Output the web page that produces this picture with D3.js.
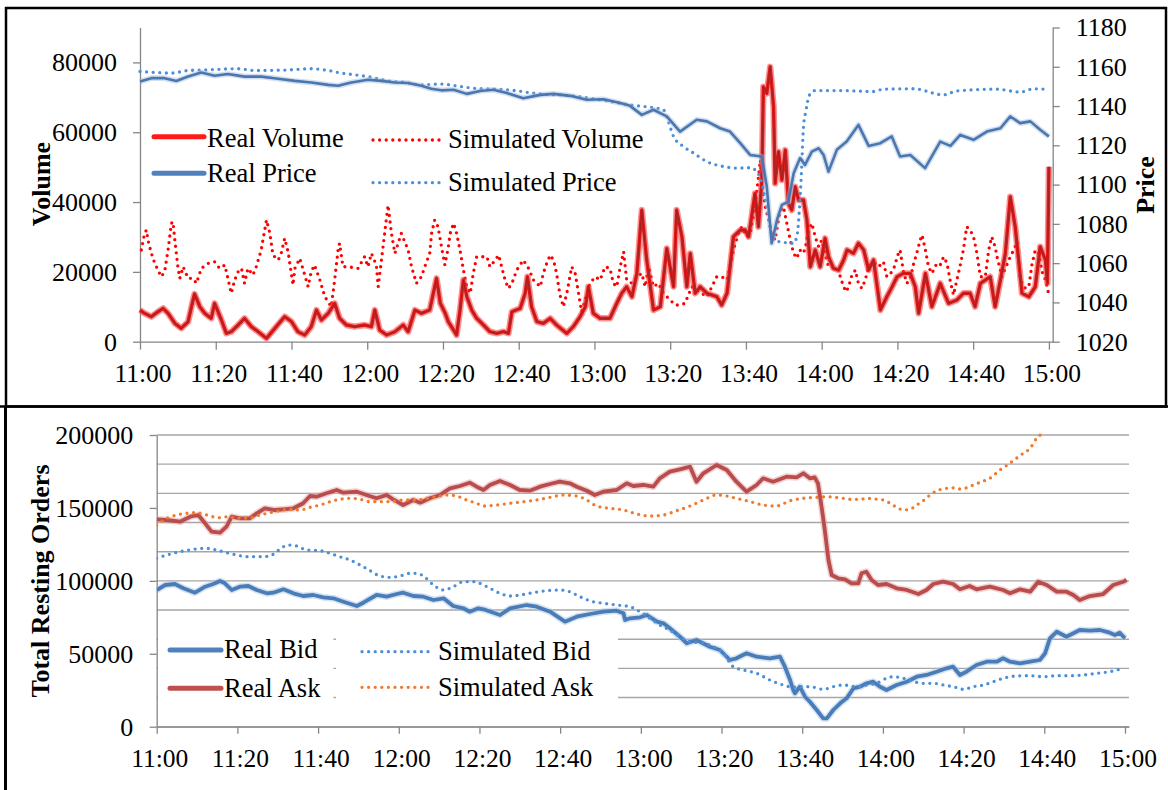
<!DOCTYPE html>
<html>
<head>
<meta charset="utf-8">
<script src="https://cdn.jsdelivr.net/npm/d3@7"></script>
<style>
  body { margin: 0; background: #fff; }
  svg { display: block; }
  text { font-family: "Liberation Serif", "Times New Roman", serif; fill: #000; }
</style>
</head>
<body>
<svg id="chart" width="1168" height="790"></svg>
<script>
// ---------- tick labels ----------
const timeLabels = ["11:00","11:20","11:40","12:00","12:20","12:40","13:00","13:20","13:40","14:00","14:20","14:40","15:00"];
const volumeTicks = [0, 20000, 40000, 60000, 80000];
const priceTicks = [1020, 1040, 1060, 1080, 1100, 1120, 1140, 1160, 1180];
const ordersTicks = [0, 50000, 100000, 150000, 200000];
const ordersGrid = [0, 20000, 40000, 60000, 80000, 100000, 120000, 140000, 160000, 180000, 200000];

// ---------- series: [minutes after 11:00, value] ----------
const realVolume = [[0,9077],[1.2,8130],[3,7160],[4.75,8590],[6.1,9560],[7.4,8130],[9.2,5270],[10.9,3840],[12.7,5730],[13.6,10020],[14.4,13660],[15.8,10020],[17.1,8130],[18.8,6700],[19.7,11000],[20.6,8590],[21.5,6210],[22.8,2400],[24.1,2860],[25.9,4780],[27.6,6700],[29.4,4300],[31.2,2860],[33.4,970],[35.6,3840],[38.2,7160],[40,5730],[41.7,2860],[43.5,1920],[45.2,4300],[46.6,9077],[47.9,6210],[49.7,8130],[51.4,11000],[52.7,6700],[54.5,4780],[56.7,4300],[59.3,4780],[61.1,4300],[62,9077],[63.3,3340],[65.1,1920],[67.3,2860],[69.5,4780],[70.8,2860],[72.6,9077],[74.3,8130],[76.5,9077],[78.3,18150],[79.3,11000],[80.6,8130],[81.4,5730],[82.8,3340],[83.6,1920],[84.5,9077],[85.4,17670],[86.3,12885],[87.6,9077],[88.9,6700],[90.7,4780],[92.4,2860],[94.2,2400],[96,2860],[97.3,2400],[98.2,8590],[100.4,9560],[101.7,13860],[102.3,18610],[103.4,10020],[104.8,5730],[106.5,5270],[108.3,6700],[110,4780],[112.7,2400],[114.4,4300],[116.2,7160],[117.6,10020],[118.4,15750],[119.7,8130],[121.5,6700],[124.1,6700],[125.9,11000],[127.2,13860],[128.5,15750],[129.9,12885],[131.2,19580],[132.5,37710],[133.8,23390],[135.6,9077],[137.4,10020],[139.1,26740],[140.9,15750],[141.7,37710],[143.1,30060],[144.4,15750],[145.3,25310],[146.6,13860],[147.9,15750],[149.7,13860],[152.3,12885],[153.6,10510],[155,13860],[156.7,30060],[158.5,32000],[159.8,31980],[160.7,30060],[161.5,35790],[162.4,42490],[163.3,32930],[164.2,46300],[164.6,73010],[165.5,71120],[166.4,78740],[167.3,67290],[167.7,45350],[168.6,54400],[169.5,46300],[170.4,54890],[171.2,39630],[172.1,37710],[173,44380],[173.9,40570],[175.2,40570],[176.1,34850],[177,21470],[178.3,26260],[179.6,21470],[180.9,29610],[181.8,24340],[183.1,21020],[184.5,20530],[185.8,23390],[186.7,26260],[188.4,25310],[189.7,28180],[191.1,26260],[192.4,20530],[193.7,23390],[195.5,9077],[197.2,12885],[198.6,15750],[199.9,18610],[201.6,19580],[203.4,19580],[204.7,15750],[205.6,8130],[207.4,19580],[209.1,10020],[211.3,16720],[213.5,11000],[215.7,11940],[217.4,13860],[219.2,13860],[220.5,10020],[221.9,16720],[224.5,18610],[225.8,10020],[227.2,17670],[228.5,25310],[229.8,41520],[231.1,32930],[232.9,13860],[234.7,12885],[236.4,15750],[237.7,27200],[239.1,23390],[239.6,16720],[240,50100]];

const simVolume = [[0.35,26260],[1.2,31030],[1.7,31980],[2.1,29120],[3,25310],[3.9,22450],[5.6,18610],[6.5,20040],[7.4,26260],[8.3,33900],[8.7,34360],[9.2,29120],[10,21470],[10.5,18150],[11.4,21470],[12.7,18150],[14,18150],[14.9,16720],[16.2,21020],[18,22450],[19.7,22910],[21,21020],[22.4,21960],[23.2,18150],[24.1,13860],[25,17670],[25.9,20040],[26.8,21020],[27.6,16720],[28.5,21020],[29.8,19100],[30.7,21470],[32,26260],[33.4,34850],[34.3,31030],[35.1,24820],[36.5,23390],[37.3,25310],[38.2,29610],[39.1,25770],[40.4,16230],[40.9,21020],[42.2,23880],[43.5,19100],[44.4,15750],[45.2,20040],[46.1,21960],[47.5,17670],[48.8,12885],[50.5,10020],[51.4,17670],[52.3,26260],[52.7,28180],[53.6,21470],[55,21470],[57.6,21020],[59.3,24340],[60.2,21470],[61.1,25310],[62.4,21960],[62.9,15750],[63.7,22910],[64.6,31030],[65.5,39140],[66.4,31030],[67.3,25310],[69,31030],[70.8,26260],[71.7,21470],[73,16720],[74.3,18610],[75.2,21470],[76.5,25310],[77,31030],[77.8,34850],[78.7,32930],[79.6,27200],[80.5,22000],[81.4,27000],[81.9,31030],[82.8,33900],[83.6,31030],[84.5,26260],[85.4,20530],[86.3,15750],[87.2,13860],[88,19580],[88.9,24340],[89.8,24340],[91.6,24340],[92.4,21470],[93.8,23390],[94.7,24820],[95.5,21470],[96.4,17670],[97.3,15270],[98.2,16720],[99.5,20530],[101.2,23390],[102.6,21020],[103.9,17670],[105.7,15750],[106.5,19580],[107.4,22450],[108.3,24820],[109.2,23390],[110,19580],[110.9,13370],[111.8,10020],[112.7,13860],[114,21470],[114.9,19580],[115.8,13860],[116.6,8590],[117.5,11940],[118.8,16720],[120.2,18610],[121.5,17670],[122.8,21470],[124.1,21020],[125,16720],[125.9,15750],[126.8,21470],[127.7,25770],[128.5,17670],[129.9,16720],[131.2,18610],[132.5,19580],[133.4,15750],[134.3,21470],[135.6,15750],[136.9,16720],[138.2,13860],[140,11940],[141.3,10510],[142.6,10510],[143.9,11000],[145.7,15750],[149.7,12885],[152.3,18610],[153.6,18610],[155,17670],[155.8,21470],[156.7,26260],[158,31030],[158.9,32930],[160.2,30060],[161.1,31030],[162.4,38650],[163.3,47240],[163.8,52030],[164.2,45350],[165.1,38650],[166,34850],[166.8,31030],[167.7,29120],[168.6,34850],[169,37220],[169.9,38650],[170.8,33900],[171.7,29120],[172.6,25310],[173.4,23880],[174.3,26260],[174.8,25310],[175.6,26260],[176.5,31980],[177.4,33900],[178.3,30060],[179.2,27200],[180,29120],[180.9,25310],[181.8,21470],[183.1,21470],[184.5,20530],[184.9,18610],[185.8,15750],[186.5,14320],[187.1,15750],[188,19100],[188.9,20530],[189.7,16720],[190.6,15290],[191.5,17670],[192.4,21470],[193.7,22910],[195,21470],[196.3,22910],[197.2,18610],[198.6,20040],[199.4,21960],[199.9,24340],[200.7,26260],[201.6,20040],[202.5,16720],[203.4,18150],[204.3,22450],[205.1,25310],[206,29120],[206.5,30550],[207.4,26260],[208.2,21470],[209.1,19580],[210.4,22450],[211.3,21960],[212.2,24340],[213.1,22450],[213.9,17670],[214.8,13370],[215.7,17670],[216.6,21960],[217.4,26260],[218.3,32930],[219.2,31980],[220.1,30060],[221,25310],[221.9,18610],[223.2,18610],[224.1,26260],[224.9,30060],[225.8,27200],[226.3,24340],[227.6,18610],[228.5,21020],[229.8,24340],[230.7,26260],[231.6,28630],[232.4,17670],[233.8,15290],[234.7,15750],[235.5,21960],[236.4,26260],[237.3,25310],[238.2,20040],[239.1,17670],[239.9,13860],[240.4,12885]];

const realPrice = [[0,1152.5],[3,1154.2],[6.5,1154.2],[9.6,1152.8],[12.7,1155],[16.2,1157.1],[19.7,1155.4],[23.2,1156.3],[27.6,1155],[32,1155],[36.5,1153.9],[40.9,1152.8],[45.2,1152],[49.7,1150.8],[52.3,1150.3],[55.8,1152],[60.2,1153.4],[63.7,1152.8],[67.3,1152],[70.8,1151.7],[74.3,1150.3],[76.9,1148.8],[79.6,1148],[82.8,1148.3],[86.3,1146.2],[89.8,1147.7],[93.3,1148.3],[96.9,1146.6],[101.2,1144],[105.7,1145.7],[109.2,1146.2],[113.6,1145.2],[118,1143.2],[122.4,1143.5],[126.8,1141.5],[129.4,1140.1],[132.5,1135.5],[135.6,1138.1],[139.1,1134.7],[142.6,1127],[147,1133],[149.7,1132.2],[153.2,1128.7],[155.8,1127],[158.5,1121.1],[161.1,1115.1],[164.2,1114.3],[165.5,1099],[166.8,1070.1],[168.2,1082],[169.5,1089.7],[171.2,1091.3],[172.6,1105.8],[174.3,1113.5],[175.6,1110],[177.4,1116.8],[179.2,1118.5],[180.5,1115.1],[181.8,1106.6],[184,1117.7],[186.6,1121.9],[189.7,1130.4],[192.4,1119.7],[195.5,1121.1],[198.5,1124.5],[200.7,1114.3],[203.4,1115.1],[207.3,1108.4],[211.3,1121.9],[214,1119.7],[216.6,1125.3],[220.1,1122.8],[223.6,1127],[227.2,1128.7],[229.8,1134.7],[232.4,1131.3],[235.1,1132.2],[237.7,1127.9],[240,1124.5]];

const simPrice = [[0,1157.6],[3.9,1157.1],[8.3,1156.8],[12.7,1158.1],[17.1,1158.4],[25.9,1159],[30.3,1158.1],[39.1,1158.4],[45.2,1159],[49.7,1158.1],[53.2,1156.8],[56.7,1155.9],[61.1,1154.7],[65.5,1152.8],[69.9,1152],[74.3,1150.8],[79,1151.2],[88,1149.1],[96.9,1148.3],[105.7,1146.2],[114.4,1145.2],[121.5,1143.2],[129.4,1140.6],[138.2,1138.1],[139.5,1132.1],[140.9,1124.5],[143.5,1119.4],[146.2,1116],[149.7,1111.7],[154.1,1109.2],[157.7,1108.4],[161.1,1108.6],[162.9,1106.6],[164.2,1100.7],[165.5,1088.8],[167.3,1071.8],[170.8,1070.4],[172.6,1070.1],[173.6,1075.4],[174.1,1087.1],[174.6,1104.1],[175.2,1129.6],[175.8,1137.2],[176.8,1145.7],[178.3,1147.9],[184.9,1147.9],[193.7,1147.4],[196.3,1148.6],[204.3,1148.8],[212.2,1145.7],[215.7,1147.7],[226.3,1148.6],[232.4,1147.1],[236,1148.8],[238.6,1148.6]];

const realBid = [[0,93730],[2.1,97150],[4.5,97840],[6.6,94890],[9.5,91880],[12,95990],[14,97840],[15.7,99900],[16.9,98320],[18.6,93730],[20.6,95990],[22.7,96470],[24.8,93730],[27.3,91460],[28.9,91880],[31.4,94210],[33.9,91460],[36.3,89610],[38.8,90300],[41.3,88720],[43.8,88040],[46.3,85700],[49.6,82760],[51.2,85020],[54.5,90300],[57,89130],[59.5,90980],[61.1,91880],[63.6,89610],[66.1,89130],[68.6,86870],[71.1,88040],[73.5,82760],[76,81180],[77.6,78850],[79.7,81180],[81,80490],[85.1,76590],[87.6,81180],[91.7,83440],[94.2,82280],[97.5,78850],[101.2,71990],[104.1,75420],[107.4,77270],[110.7,78850],[114,79530],[115.7,77750],[116.1,73160],[117.3,74320],[119.8,75010],[121.5,76590],[124,71990],[125.6,70900],[127.2,67470],[129.7,61710],[131.4,57180],[133.8,59440],[137.1,54850],[139.6,52590],[142.1,45730],[143.7,46900],[146.2,50330],[148.7,47990],[152,46900],[154.5,47990],[155.7,41140],[157,32000],[157.8,25000],[158.2,22900],[159.4,27430],[160.7,20570],[161.9,17140],[163.6,11450],[165.2,5760],[166.1,5760],[167.7,11450],[169.4,16040],[171,19470],[172.7,26330],[174.3,27430],[176,29760],[177.6,30850],[179.3,27430],[180.9,25160],[183.4,28590],[185.9,30850],[188.4,34280],[190.8,35450],[193.3,37710],[195.8,40040],[197.4,41140],[199.1,35450],[200.7,37710],[203.2,42300],[205.7,44570],[208.2,44570],[209.8,46900],[211.5,44570],[214,43470],[216.5,44570],[218.9,45730],[220.2,50330],[221.4,60610],[223.1,65130],[225.5,61710],[228.8,66300],[231.3,65820],[233.8,66300],[236.2,64450],[237.5,62870],[238.7,64450],[240,60610]];

const realAsk = [[0,142190],[2.5,141720],[5.8,140550],[8.3,143980],[10.3,145150],[12,139460],[13.6,133700],[15.7,133020],[17.3,137130],[18.6,143980],[20.6,142880],[23.1,142880],[24.8,146310],[26.8,149740],[29.3,148570],[31.4,149040],[33.9,149740],[36.3,153170],[38,158170],[39.6,157700],[42.1,160030],[44.6,162290],[46.3,160440],[49.6,161120],[52,158860],[54.5,156600],[57,158860],[58.6,155910],[61.1,152000],[63.6,155430],[65.3,153580],[67.7,156600],[70.2,158860],[72.7,163460],[75.2,165030],[77.6,167290],[79.3,164550],[81,162290],[82.6,165720],[85.1,168460],[87.6,165720],[90,162290],[92.5,161810],[95,164550],[97.5,166400],[99.9,167980],[102.4,166880],[104.1,164550],[106.6,161810],[108.6,158860],[110.7,161120],[114,162290],[116.5,166880],[118.1,165030],[120.6,165720],[123.1,164550],[124.7,170310],[127.2,174840],[129.7,176480],[132.2,178270],[133.8,167980],[135.5,173740],[138.8,179430],[141.3,176000],[143.7,167980],[146.2,161120],[148.7,165720],[150.3,170310],[152.8,167980],[156.1,171410],[158.6,171000],[160.3,173740],[161.9,170310],[163.1,171000],[163.9,166880],[164.8,150840],[165.6,134860],[166.5,114300],[167.3,104010],[168.9,101750],[170.6,101060],[172.2,98320],[173.9,98320],[174.7,105180],[175.9,106270],[177.2,100580],[178.8,97150],[180.9,97840],[183.4,94890],[185.9,93730],[188.8,90980],[190.8,93730],[192.5,97840],[194.9,99420],[197.4,97840],[199.1,94210],[201.5,96470],[203.2,94210],[206.5,95990],[209.8,93730],[211.5,91460],[214,94210],[216.5,92560],[218.5,99420],[220.6,97150],[223.1,92560],[225.5,92560],[227.2,90300],[228.8,86870],[231.3,89610],[234.6,90980],[237.1,97150],[239.6,99420],[240.4,100580]];

const simBid = [[0,115460],[2.5,117720],[5.8,119990],[9.1,121630],[12,122320],[14.9,121150],[17.3,119300],[19.8,117720],[22.3,116560],[25.6,116560],[28.1,117040],[29.7,119990],[32.6,124580],[34.7,123890],[37.2,121150],[40.5,120670],[42.9,118890],[45.4,116560],[47.9,114300],[50.4,110870],[52.9,106960],[55.3,103330],[57.8,102430],[60.3,103330],[62.8,105180],[64.4,105180],[66.1,103330],[68.6,97150],[71.1,93730],[73.5,95990],[76,99420],[78.5,99420],[80.1,98320],[82.6,94890],[85.1,91460],[87.6,89610],[90,90300],[93.3,91880],[96.6,93250],[99.9,93730],[102.4,92560],[104.9,89130],[108.2,85700],[110.7,84610],[114,83440],[117.3,82280],[119.8,78850],[122.3,74320],[124.7,69730],[127.2,66300],[129.7,61710],[132.2,58280],[135.5,57180],[138,54850],[140.5,50330],[142.9,41140],[145.4,38880],[148.7,36610],[152,32020],[155.3,28590],[157.8,27000],[159.4,27430],[161.9,27430],[165.2,25640],[167.7,27430],[170.2,28590],[173.5,27430],[176,28590],[178.4,29760],[180.9,33190],[182.6,34280],[185.1,33190],[187.6,30850],[190,29760],[192.5,29760],[195,28590],[197.4,27430],[199.9,25640],[202.4,27430],[204.9,28590],[207.4,30850],[209.8,33190],[213.1,34760],[216.5,34970],[219.8,34280],[223.1,34970],[226.4,34970],[229.7,35450],[233,36610],[236.2,37710],[239.6,40040]];

const simAsk = [[0,138290],[2.5,142880],[4.95,145150],[7.4,146310],[9.9,146730],[12.4,145150],[15.3,143300],[17.8,143980],[20.2,142880],[23.1,143300],[25.6,145150],[28.1,146730],[30.6,148100],[33.1,149040],[35.5,148570],[38,150430],[40.5,152000],[43,154270],[45.4,155910],[47.9,156600],[50.4,155910],[52.9,154270],[55.3,154270],[57.8,154270],[61.1,155430],[64.4,155430],[66.9,156600],[69.4,157700],[71.9,158860],[74.3,158170],[76.8,155430],[79.3,153170],[81,151320],[84.3,152000],[87.6,153170],[90.9,154270],[94.2,155430],[97.5,157280],[100.7,158860],[104.1,158170],[106.6,155430],[109,151320],[112.3,149740],[115.7,148570],[119,145830],[122.3,144460],[125.6,145150],[128.9,148100],[132.2,151320],[135.5,155430],[138.8,158860],[141.3,158170],[143.7,156600],[147.1,154270],[150.3,152000],[153.6,151320],[157,154950],[160.3,156600],[163.6,157280],[166.1,157700],[168.1,157280],[170.2,156600],[172.2,155910],[174.3,155910],[176,156600],[178,156120],[180.1,155430],[181.8,153170],[183.4,150430],[185.1,148570],[186.7,149040],[188.4,152000],[190,154950],[191.7,158860],[193.3,161810],[195,162970],[197.1,163870],[198.7,162970],[200.8,163870],[202.4,165720],[204.5,167980],[206.5,170310],[209,176000],[211.1,179910],[213.1,184030],[214.8,187460],[216.5,190880],[218.1,197740],[219,200000]];

// ---------- helpers ----------
const parseClock = d3.timeParse("%H:%M");
const start = parseClock("11:00");
const T = m => new Date(+start + m * 60000);
const fmtClock = d3.timeFormat("%H:%M");

const svg = d3.select("#chart");
const AXIS = "#868686";
const FONT = "Liberation Serif, Times New Roman, serif";

function styleAxis(g, size) {
  g.attr("font-family", FONT).attr("font-size", size);
  g.selectAll(".domain").attr("stroke", AXIS).attr("stroke-width", 1.3);
  g.selectAll(".tick line").attr("stroke", AXIS).attr("stroke-width", 1.3);
  g.selectAll(".tick text").attr("fill", "#000");
}

// a solid series: soft halo underneath, coloured stroke on top
function drawSolid(g, data, x, y, core, halo, w, haloOpacity) {
  const line = d3.line().x(d => x(T(d[0]))).y(d => y(d[1])).curve(d3.curveLinear);
  g.append("path").attr("d", line(data)).attr("fill", "none")
    .attr("stroke", halo).attr("stroke-width", w + 3).attr("stroke-opacity", haloOpacity)
    .attr("stroke-linejoin", "round");
  g.append("path").attr("d", line(data)).attr("fill", "none")
    .attr("stroke", core).attr("stroke-width", w).attr("stroke-linejoin", "round");
}

function drawDotted(g, data, x, y, color, curve) {
  const line = d3.line().x(d => x(T(d[0]))).y(d => y(d[1])).curve(curve);
  g.append("path").attr("d", line(data)).attr("fill", "none")
    .attr("stroke", color).attr("stroke-width", 3.3)
    .attr("stroke-linecap", "round").attr("stroke-dasharray", "0 6.6");
}

function legendSolid(g, x1, x2, y, color) {
  g.append("line").attr("x1", x1).attr("x2", x2).attr("y1", y).attr("y2", y)
    .attr("stroke", color).attr("stroke-width", 5).attr("stroke-linecap", "round");
}
function legendDotted(g, x1, x2, y, color) {
  g.append("line").attr("x1", x1).attr("x2", x2).attr("y1", y).attr("y2", y)
    .attr("stroke", color).attr("stroke-width", 3.3)
    .attr("stroke-linecap", "round").attr("stroke-dasharray", "0 6.6");
}
function legendText(g, x, y, str) {
  g.append("text").attr("x", x).attr("y", y).attr("font-size", 26.5).text(str);
}

// ---------- panel frames ----------
svg.append("rect").attr("x", 6).attr("y", 8).attr("width", 1160).attr("height", 398.5)
  .attr("fill", "none").attr("stroke", "#000").attr("stroke-width", 2.5);
svg.append("line").attr("x1", 0).attr("x2", 1168).attr("y1", 406.5).attr("y2", 406.5)
  .attr("stroke", "#000").attr("stroke-width", 2.5);
svg.append("line").attr("x1", 5.5).attr("x2", 5.5).attr("y1", 406).attr("y2", 790)
  .attr("stroke", "#000").attr("stroke-width", 3);

// =========== upper chart: volume & price ===========
const upper = svg.append("g");
const xTop = d3.scaleTime().domain([T(0), T(241)]).range([140, 1052.7]);
const yVol = d3.scaleLinear().domain([0, 90000]).range([341.7, 27.5]);
const yPrice = d3.scaleLinear().domain([1020, 1180]).range([341.7, 27.5]);
const timeTicks = timeLabels.map(parseClock);

const axVol = upper.append("g").attr("transform", "translate(140,0)")
  .call(d3.axisLeft(yVol).tickValues(volumeTicks).tickSize(7).tickPadding(16).tickSizeOuter(0).tickFormat(d3.format("d")));
styleAxis(axVol, 26);
const axPrice = upper.append("g").attr("transform", "translate(1052.7,0)")
  .call(d3.axisRight(yPrice).tickValues(priceTicks).tickSize(7).tickPadding(16).tickSizeOuter(0).tickFormat(d3.format("d")));
styleAxis(axPrice, 26);
const axTimeTop = upper.append("g").attr("transform", "translate(0,341.7)")
  .call(d3.axisBottom(xTop).tickValues(timeTicks)
    .tickSize(8).tickPadding(14).tickSizeOuter(0).tickFormat(fmtClock));
styleAxis(axTimeTop, 25.5);
axTimeTop.selectAll(".tick text").attr("dx", 2.5);

upper.append("text").attr("transform", "translate(50,184) rotate(-90)")
  .attr("text-anchor", "middle").attr("font-size", 26).attr("font-weight", "bold").text("Volume");
upper.append("text").attr("transform", "translate(1154,185) rotate(-90)")
  .attr("text-anchor", "middle").attr("font-size", 26).attr("font-weight", "bold").text("Price");

const upperSeries = upper.append("g");
drawDotted(upperSeries, simVolume, xTop, yVol, "#ff0000", d3.curveLinear);
drawSolid(upperSeries, realVolume, xTop, yVol, "#dc1a1a", "#ff3a3a", 3.4, 0.55);
upperSeries.append("path")
  .attr("d", d3.line().x(d => xTop(T(d[0]))).y(d => yVol(d[1]))(realVolume))
  .attr("fill", "none").attr("stroke", "#8a2626").attr("stroke-width", 1).attr("stroke-opacity", 0.75);
drawDotted(upperSeries, simPrice, xTop, yPrice, "#4a90d9", d3.curveMonotoneX);
drawSolid(upperSeries, realPrice, xTop, yPrice, "#4b76ae", "#9bb8de", 2.6, 0.45);

const upperLegend = upper.append("g");
legendSolid(upperLegend, 154, 204, 136.7, "#ff1a1a");
legendText(upperLegend, 207, 146.5, "Real Volume");
legendSolid(upperLegend, 154, 204, 173.3, "#4f81bd");
legendText(upperLegend, 207, 181.7, "Real Price");
legendDotted(upperLegend, 373, 440, 140, "#ff0000");
legendText(upperLegend, 448, 148.3, "Simulated Volume");
legendDotted(upperLegend, 373, 440, 182.7, "#4a90d9");
legendText(upperLegend, 448, 190.7, "Simulated Price");

// =========== lower chart: resting orders ===========
const lower = svg.append("g");
const xBot = d3.scaleTime().domain([T(0), T(241)]).range([156.7, 1129]);
const yOrd = d3.scaleLinear().domain([0, 200000]).range([726.7, 435]);

lower.append("g").selectAll("line").data(ordersGrid).join("line")
  .attr("x1", xBot.range()[0]).attr("x2", xBot.range()[1])
  .attr("y1", d => yOrd(d)).attr("y2", d => yOrd(d))
  .attr("stroke", "#a6a6a6").attr("stroke-width", 1.4);

// legend backgrounds sit over the gridlines
lower.append("rect").attr("x", 158).attr("y", 633).attr("width", 175.5).attr("height", 72).attr("fill", "#fff");
lower.append("rect").attr("x", 336).attr("y", 633).attr("width", 282).attr("height", 72).attr("fill", "#fff");

const axOrd = lower.append("g").attr("transform", "translate(156.7,0)")
  .call(d3.axisLeft(yOrd).tickValues(ordersTicks).tickSize(7).tickPadding(16.4).tickSizeOuter(0).tickFormat(d3.format("d")));
styleAxis(axOrd, 26);
const axTimeBot = lower.append("g").attr("transform", "translate(0,726.7)")
  .call(d3.axisBottom(xBot).tickValues(timeTicks)
    .tickSize(7).tickPadding(15).tickSizeOuter(0).tickFormat(fmtClock));
styleAxis(axTimeBot, 25.5);
axTimeBot.selectAll(".tick text").attr("dx", 2.5);

lower.append("text").attr("transform", "translate(49,581) rotate(-90)")
  .attr("text-anchor", "middle").attr("font-size", 26).attr("font-weight", "bold").text("Total Resting Orders");

svg.append("defs").append("clipPath").attr("id", "plotBot")
  .append("rect").attr("x", 156.7).attr("y", 433).attr("width", 975).attr("height", 296);
const lowerSeries = lower.append("g").attr("clip-path", "url(#plotBot)");
drawSolid(lowerSeries, realAsk, xBot, yOrd, "#b94c4c", "#e3a3a3", 3.8, 0.5);
drawSolid(lowerSeries, realBid, xBot, yOrd, "#4a7cb8", "#a9c5e8", 3.8, 0.5);
drawDotted(lowerSeries, simBid, xBot, yOrd, "#4a90d9", d3.curveMonotoneX);
drawDotted(lowerSeries, simAsk, xBot, yOrd, "#f07a2a", d3.curveMonotoneX);

const lowerLegend = lower.append("g");
legendSolid(lowerLegend, 170, 221, 650, "#4f81bd");
legendText(lowerLegend, 224, 658.3, "Real Bid");
legendSolid(lowerLegend, 170, 221, 688.3, "#c0504d");
legendText(lowerLegend, 224, 696.7, "Real Ask");
legendDotted(lowerLegend, 362, 428, 651.7, "#4a90d9");
legendText(lowerLegend, 438, 660, "Simulated Bid");
legendDotted(lowerLegend, 362, 428, 687.3, "#f07a2a");
legendText(lowerLegend, 438, 696, "Simulated Ask");
</script>
</body>
</html>
